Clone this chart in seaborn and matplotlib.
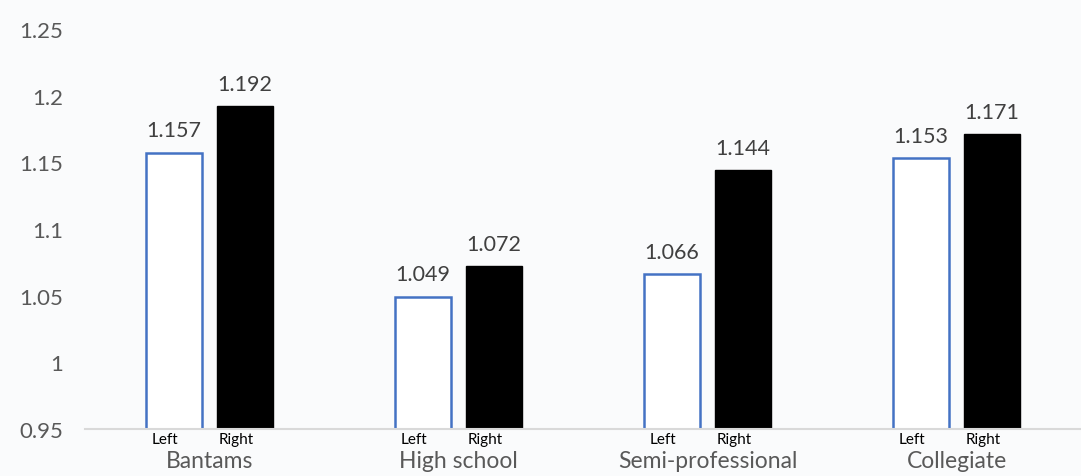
import matplotlib
matplotlib.use("Agg")
import matplotlib.pyplot as plt
import matplotlib.transforms as mtransforms
import seaborn as sns
import pandas as pd

categories = ["Bantams", "High school", "Semi-professional", "Collegiate"]
sides = ["Left", "Right"]
left_values = [1.157, 1.049, 1.066, 1.153]
right_values = [1.192, 1.072, 1.144, 1.171]
y_ticks = [0.95, 1, 1.05, 1.1, 1.15, 1.2, 1.25]
y_tick_labels = ["0.95", "1", "1.05", "1.1", "1.15", "1.2", "1.25"]

rows = []
for c, lv, rv in zip(categories, left_values, right_values):
    rows.append({"category": c, "side": "Left", "value": lv})
    rows.append({"category": c, "side": "Right", "value": rv})
df = pd.DataFrame(rows)

sns.set_theme(style="white")
plt.rcParams["font.family"] = ["Lato", "DejaVu Sans"]

bg = "#fafbfc"
fig = plt.figure(figsize=(10.81, 4.77), dpi=100, facecolor=bg)
ax = fig.add_axes([85 / 1081, 47 / 477, 1 - 85 / 1081, 400 / 477])
ax.set_facecolor(bg)

sns.barplot(data=df, x="category", y="value", hue="side", hue_order=sides,
            order=categories, palette={"Left": "white", "Right": "black"},
            width=0.57, gap=0.21, ax=ax, legend=False, errorbar=None)

blue = "#4472c4"
for p in ax.containers[0]:
    p.set_edgecolor(blue)
    p.set_linewidth(1.8)
    p.set_facecolor("white")
for p in ax.containers[1]:
    p.set_edgecolor("black")
    p.set_facecolor("black")

for cont in ax.containers:
    ax.bar_label(cont, fmt="%.3f", padding=9, fontsize=15.5, color="#404040")

ax.set_ylim(0.95, 1.25)
ax.set_xlim(-0.5, 3.5)
ax.set_yticks(y_ticks)
ax.set_yticklabels(y_tick_labels, fontsize=16, color="#595959")
ax.tick_params(axis="y", length=0, pad=16)
ax.tick_params(axis="x", length=0, pad=15)
ax.set_xticks(range(len(categories)))
ax.set_xticklabels(categories, fontsize=16.5, color="#595959")
ax.set_xlabel("")
ax.set_ylabel("")

for s in ["top", "right", "left"]:
    ax.spines[s].set_visible(False)
ax.spines["bottom"].set_color("#d9d9d9")
ax.spines["bottom"].set_linewidth(1.5)

trans = mtransforms.blended_transform_factory(ax.transData, ax.transAxes)
trans = trans + mtransforms.ScaledTranslation(-9 / 100, 0, fig.dpi_scale_trans)
for cont, lab in zip(ax.containers, sides):
    for p in cont:
        xc = p.get_x() + p.get_width() / 2
        ax.text(xc, -0.008, lab, transform=trans, ha="center", va="top",
                fontsize=11, color="black")

fig.savefig("out.png", dpi=100, facecolor=bg)
